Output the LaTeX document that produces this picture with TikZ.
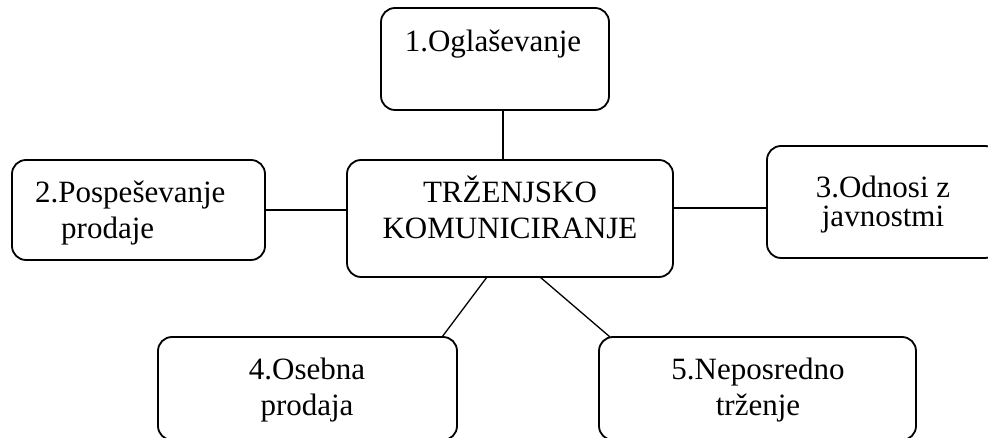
\documentclass[tikz,border=0pt]{standalone}
\usepackage{fontspec}
\setmainfont{Liberation Serif}
\begin{document}
\begin{tikzpicture}[x=1pt,y=1pt,
  box/.style={draw=black,line width=1.8pt,rounded corners=14pt,
    inner sep=0pt,outer sep=0pt,rectangle},
  link/.style={draw=black,line width=1.3pt},
  lbl/.style={inner sep=0pt,anchor=base,font=\fontsize{31}{36}\selectfont}]
\useasboundingbox (0,0) rectangle (988,438);

% rounded boxes (sizes in pt)
\node[box,minimum width=228pt,minimum height=102pt] (b1) at (495,379) {};
\node[box,minimum width=326pt,minimum height=117pt] (c)  at (510,219.5) {};
\node[box,minimum width=253pt,minimum height=100pt] (b2) at (138.5,228) {};
\node[box,minimum width=232pt,minimum height=112pt] (b3) at (883,236) {};
\node[box,minimum width=299pt,minimum height=103pt] (b4) at (307.5,49.5) {};
\node[box,minimum width=317pt,minimum height=103pt] (b5) at (757.5,49.5) {};

% labels
\node[lbl] (t1) at (493,386) {1.Oglaševanje};
\node[lbl] (tc) at (510,235)
  {\begin{tabular}[t]{@{}c@{}}TRŽENJSKO\\KOMUNICIRANJE\end{tabular}};
\node[lbl,anchor=base west] (t2) at (35,235)
  {\begin{tabular}[t]{@{}l@{}}2.Pospeševanje\\\hspace*{26pt}prodaje\end{tabular}};
\node[lbl,font=\fontsize{31}{28}\selectfont] (t3) at (883,240)
  {\begin{tabular}[t]{@{}c@{}}3.Odnosi z\\javnostmi\end{tabular}};
\node[lbl] (t4) at (307,58)
  {\begin{tabular}[t]{@{}c@{}}4.Osebna\\prodaja\end{tabular}};
\node[lbl] (t5) at (758,58)
  {\begin{tabular}[t]{@{}c@{}}5.Neposredno\\trženje\end{tabular}};

% connectors
\draw[link] ([xshift=8pt]b1.south) -- ([xshift=8pt]b1.south |- c.north);
\draw[link] (b2.east) -- (b2.east -| c.west);
\draw[link] ([yshift=10.5pt]c.east) -- ([yshift=10.5pt]c.east -| b3.west);
\draw[link] ([xshift=-23pt]c.south) -- ([xshift=134.5pt]b4.north);
\draw[link] ([xshift=30pt]c.south) -- ([xshift=-147.5pt]b5.north);
\end{tikzpicture}
\end{document}
